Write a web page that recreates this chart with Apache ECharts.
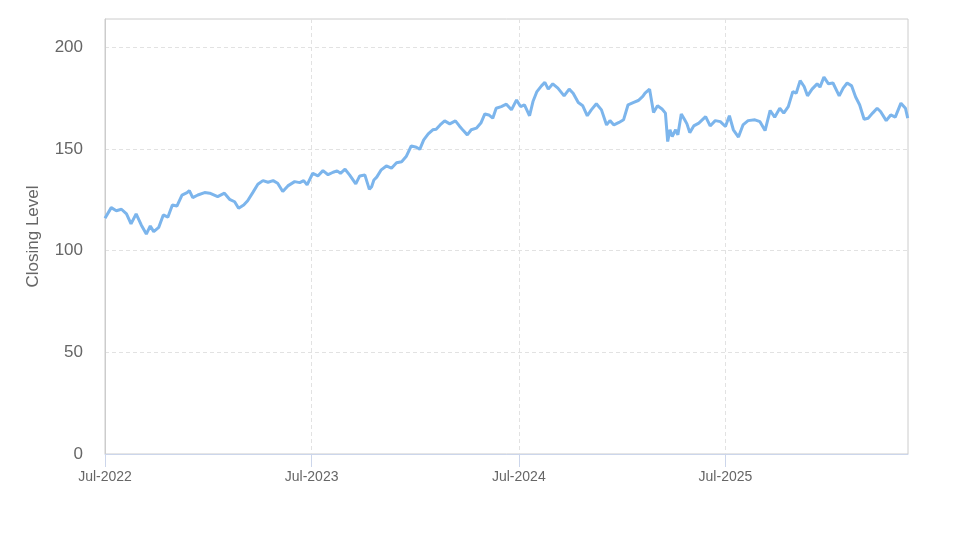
<!DOCTYPE html>
<html>
<head>
<meta charset="utf-8">
<script src="https://cdn.jsdelivr.net/npm/echarts@6/dist/echarts.min.js"></script>
<style>
html,body{margin:0;padding:0;background:#fff;}
#chart{width:973px;height:547px;}
</style>
</head>
<body>
<div id="chart"></div>
<script>
// ---- data ----
const dates = [
"2022-07-01","2022-07-12","2022-07-21","2022-07-30","2022-08-08","2022-08-16","2022-08-25","2022-09-03","2022-09-12","2022-09-19",
"2022-09-25","2022-10-04","2022-10-12","2022-10-20","2022-10-28","2022-11-05","2022-11-14","2022-11-23","2022-11-27","2022-12-03",
"2022-12-12","2022-12-24","2023-01-02","2023-01-16","2023-01-28","2023-02-06","2023-02-15","2023-02-22","2023-03-03","2023-03-10",
"2023-03-19","2023-03-28","2023-04-06","2023-04-15","2023-04-24","2023-05-02","2023-05-11","2023-05-20","2023-06-01","2023-06-10",
"2023-06-17","2023-06-23","2023-07-03","2023-07-12","2023-07-21","2023-07-30","2023-08-08","2023-08-15","2023-08-21","2023-08-29",
"2023-09-06","2023-09-17","2023-09-24","2023-10-03","2023-10-11","2023-10-15","2023-10-19","2023-10-24","2023-11-01","2023-11-10",
"2023-11-19","2023-11-28","2023-12-07","2023-12-15","2023-12-24","2024-01-02","2024-01-08","2024-01-15","2024-01-23","2024-01-31",
"2024-02-06","2024-02-13","2024-02-21","2024-03-01","2024-03-11","2024-03-18","2024-03-25","2024-04-01","2024-04-08","2024-04-17",
"2024-04-25","2024-05-02","2024-05-09","2024-05-16","2024-05-22","2024-05-31","2024-06-09","2024-06-18","2024-06-27","2024-07-04",
"2024-07-11","2024-07-20","2024-07-26","2024-08-02","2024-08-10","2024-08-16","2024-08-22","2024-08-30","2024-09-08","2024-09-19",
"2024-09-28","2024-10-05","2024-10-14","2024-10-22","2024-10-30","2024-11-06","2024-11-15","2024-11-24","2024-12-03","2024-12-09",
"2024-12-16","2024-12-25","2025-01-02","2025-01-10","2025-01-19","2025-01-28","2025-02-05","2025-02-09","2025-02-17","2025-02-24",
"2025-03-03","2025-03-11","2025-03-17","2025-03-21","2025-03-25","2025-03-29","2025-04-04","2025-04-08","2025-04-14","2025-04-20",
"2025-04-24","2025-04-29","2025-05-06","2025-05-15","2025-05-27","2025-06-04","2025-06-13","2025-06-22","2025-07-01","2025-07-08",
"2025-07-15","2025-07-24","2025-08-01","2025-08-10","2025-08-22","2025-08-31","2025-09-09","2025-09-18","2025-09-26","2025-10-05",
"2025-10-12","2025-10-20","2025-10-28","2025-11-03","2025-11-10","2025-11-17","2025-11-23","2025-12-01","2025-12-10","2025-12-15",
"2025-12-22","2025-12-30","2026-01-07","2026-01-18","2026-01-25","2026-02-01","2026-02-09","2026-02-16","2026-02-23","2026-03-03",
"2026-03-10","2026-03-18","2026-03-26","2026-04-01","2026-04-11","2026-04-19","2026-04-27","2026-05-07","2026-05-15","2026-05-19"
];
const closingLevel = [
116.0,121.2,119.7,120.4,118.1,113.2,118.1,112.7,108.2,112.2,
109.4,111.5,117.6,116.5,122.5,122.0,127.4,128.6,129.6,126.1,
127.4,128.6,128.3,126.6,128.3,125.3,124.1,120.9,122.5,124.6,
128.6,132.7,134.5,133.7,134.5,133.2,129.1,131.9,134.0,133.5,
134.5,132.4,138.1,136.8,139.4,137.4,138.6,139.3,138.1,140.1,
137.3,132.9,136.8,137.3,130.2,131.5,134.8,136.2,139.8,141.7,
140.6,143.3,143.8,146.3,151.6,150.9,149.9,154.5,157.5,159.5,
159.8,161.9,163.9,162.4,163.9,161.4,159.1,157.0,159.5,160.3,
162.8,167.3,166.8,165.2,170.1,170.9,172.1,169.3,174.2,170.9,
171.8,166.4,173.4,178.3,181.1,182.8,179.5,182.1,180.0,176.2,
179.5,177.5,172.9,171.3,166.4,169.3,172.3,169.3,161.9,164.0,
161.9,163.1,164.4,171.8,172.9,173.9,175.9,177.5,179.5,168.0,
171.3,169.7,167.7,153.7,159.5,156.2,159.5,157.0,167.3,164.4,
162.4,158.1,161.4,162.8,166.0,161.4,164.0,163.5,161.1,166.4,
159.5,155.9,161.9,164.0,164.4,163.5,159.1,169.0,165.7,170.1,
167.7,170.9,178.3,177.5,183.7,180.8,176.2,179.5,182.1,180.5,
185.4,182.1,182.5,176.2,180.0,182.5,181.1,175.6,171.8,164.7,
165.2,167.7,170.1,168.5,164.0,166.8,165.7,172.6,170.1,165.2
];
const xTickDates = ["2022-07-01","2023-07-01","2024-07-01","2025-07-01"];
const xTickLabels = ["Jul-2022","Jul-2023","Jul-2024","Jul-2025"];
const yTicks = [0, 50, 100, 150, 200];
const yAxisTitle = "Closing Level";
const startDate = "2022-07-01";
const endDate = "2026-05-20";

// ---- build ----
const DAY = 86400000;
const t0 = Date.parse(startDate);
const toDay = s => Math.round((Date.parse(s) - t0) / DAY);
const seriesData = dates.map((d, i) => [toDay(d), closingLevel[i]]);
const xTickVals = xTickDates.map(toDay);
const FONT = "'Liberation Sans', Arial, sans-serif";

const chart = echarts.init(document.getElementById('chart'), null, {renderer: 'canvas'});
chart.setOption({
  animation: false,
  backgroundColor: '#ffffff',
  grid: {left: 105, right: 65, top: 19, bottom: 93, show: true, borderColor: '#cccccc', borderWidth: 1, containLabel: false},
  xAxis: {
    type: 'value',
    min: 0,
    max: toDay(endDate) - 0.5,
    axisLine: {show: true, lineStyle: {color: '#ccd6eb', width: 1}},
    axisTick: {show: true, length: 13, lineStyle: {color: '#ccd6eb', width: 1}, customValues: xTickVals},
    axisLabel: {
      customValues: xTickVals,
      color: '#666666', fontSize: 14, fontFamily: FONT, margin: 16,
      formatter: v => { const i = xTickVals.indexOf(Math.round(v)); return i >= 0 ? xTickLabels[i] : ''; }
    },
    splitLine: {show: true, lineStyle: {color: '#e2e2e2', type: [4, 3], width: 1}}
  },
  yAxis: {
    type: 'value',
    min: 0,
    max: 214,
    name: yAxisTitle,
    nameLocation: 'middle',
    nameGap: 63,
    nameTextStyle: {color: '#666666', fontSize: 17, fontFamily: FONT},
    axisLine: {show: true, lineStyle: {color: '#cccccc'}},
    axisTick: {show: false, customValues: yTicks},
    axisLabel: {customValues: yTicks, color: '#666666', fontSize: 17, fontFamily: FONT, margin: 22},
    splitLine: {show: true, lineStyle: {color: '#e2e2e2', type: [4, 3], width: 1}}
  },
  series: [{
    type: 'line',
    data: seriesData,
    showSymbol: false,
    symbol: 'none',
    lineStyle: {color: '#7cb5ec', width: 3},
    itemStyle: {color: '#7cb5ec'}
  }]
});
</script>
</body>
</html>
